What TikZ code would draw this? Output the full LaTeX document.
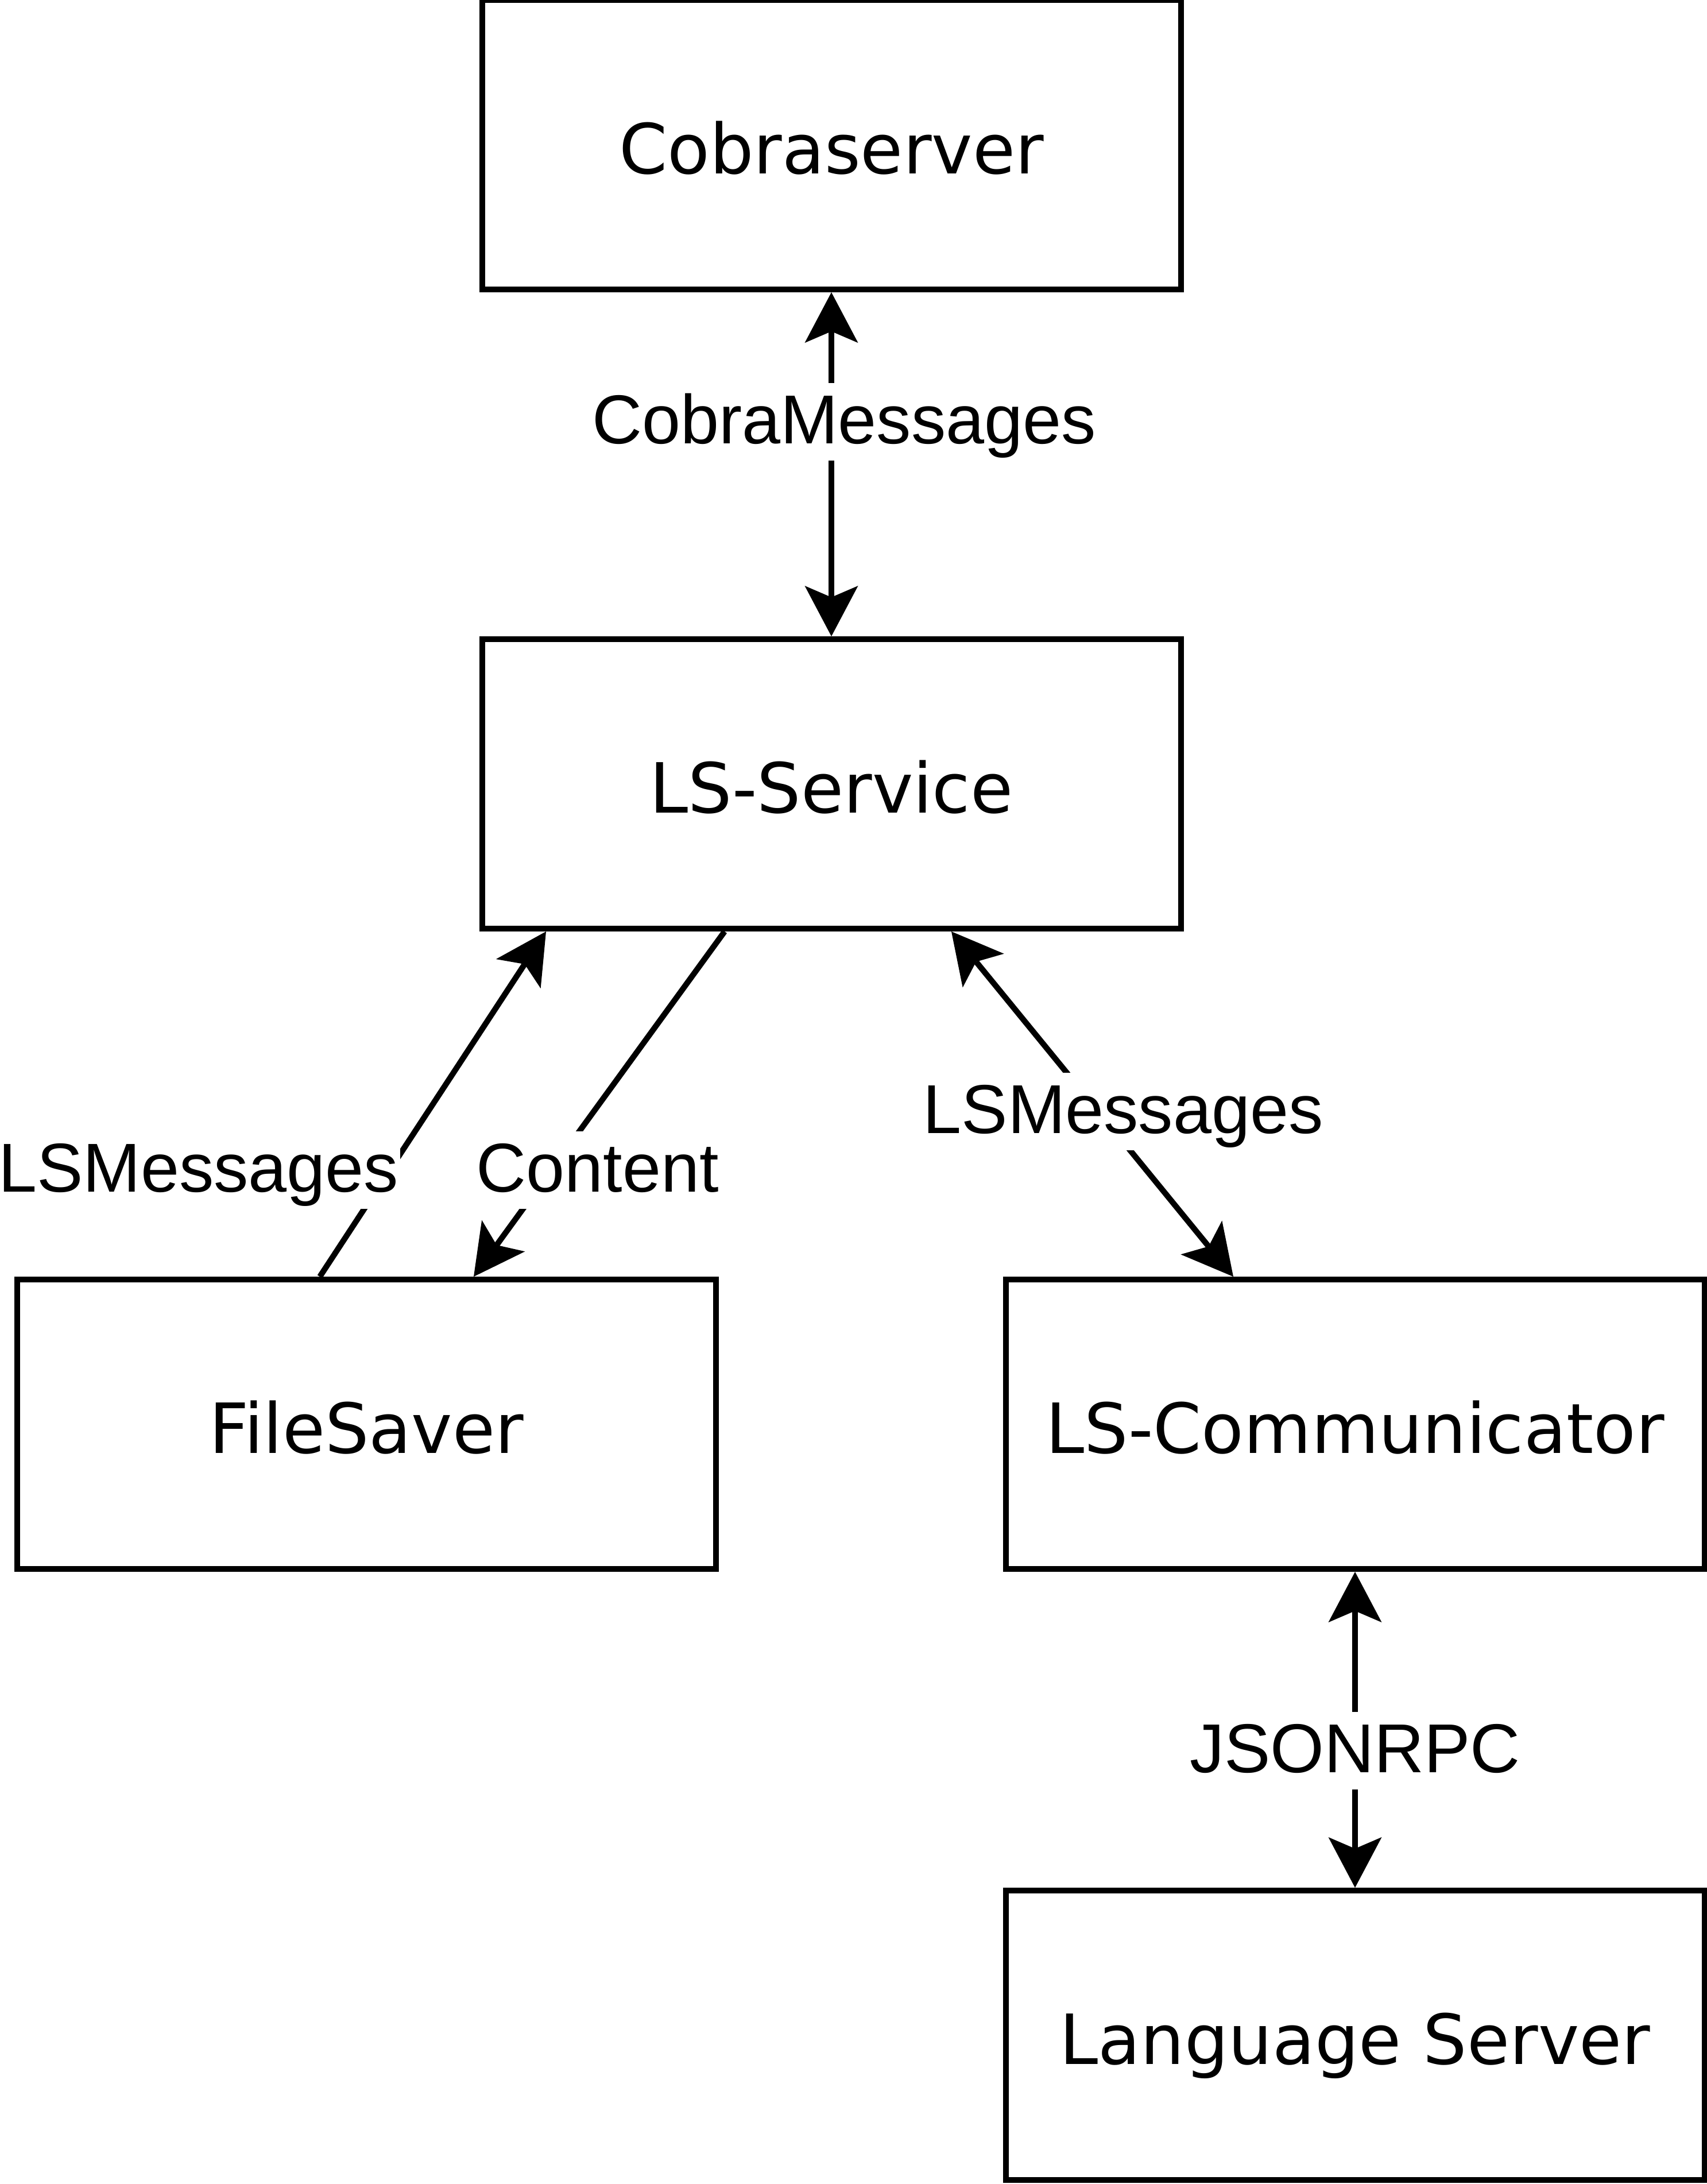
\documentclass[tikz,border=0pt]{standalone}
\usepackage{fontspec}
\setmainfont{Liberation Sans}
\newfontfamily\boxfont{DejaVu Sans}
\usetikzlibrary{arrows.meta}

\tikzset{
  block/.style={draw, line width=0.1cm, minimum width=12.17cm, minimum height=5.04cm,
    inner sep=0pt, font=\boxfont\fontsize{34.3}{41}\selectfont, text height=1cm, text depth=0cm},
  msg/.style={fill=white, inner xsep=0.03cm, inner ysep=0.05cm,
    font=\fontsize{34.3}{41}\selectfont, text height=1cm, text depth=0.25cm},
  link/.style={line width=0.1cm}
}

\begin{document}
\begin{tikzpicture}[>={Stealth[length=0.88cm,width=0.93cm,inset=0.2cm,line width=0pt]}]
\useasboundingbox (0,0) rectangle (29.73,-38.03);

% Boxes
\node[block] (cobra) at (14.48,-2.52) {Cobraserver};
\node[block] (service) at (14.48,-13.65) {LS-Service};
\node[block] (saver) at (6.38,-24.80) {FileSaver};
\node[block] (comm) at (23.60,-24.80) {LS-Communicator};
\node[block] (lang) at (23.60,-35.44) {Language Server};

% Connectors
\draw[link,<->] (cobra) -- (service);
\draw[link,->] ([xshift=-0.81cm]saver.north) -- ([xshift=-4.97cm]service.south);
\draw[link,->] ([xshift=-1.86cm]service.south) -- ([xshift=1.87cm]saver.north);
\draw[link,<->] ([xshift=2.09cm]service.south) -- ([xshift=-2.12cm]comm.north);
\draw[link,<->] (comm) -- (lang);

% Labels
\node[msg, anchor=base] (cobramsg) at (14.70,-7.72) {CobraMessages};
\node[msg, anchor=base east] (savermsg) at (6.98,-20.75) {LSMessages};
\node[msg, anchor=base] (content) at (10.41,-20.75) {Content};
\node[msg, anchor=base] (commmsg) at (19.56,-19.73) {LSMessages};
\node[msg, anchor=base] (jsonrpc) at (23.60,-30.86) {JSONRPC};

\end{tikzpicture}
\end{document}
